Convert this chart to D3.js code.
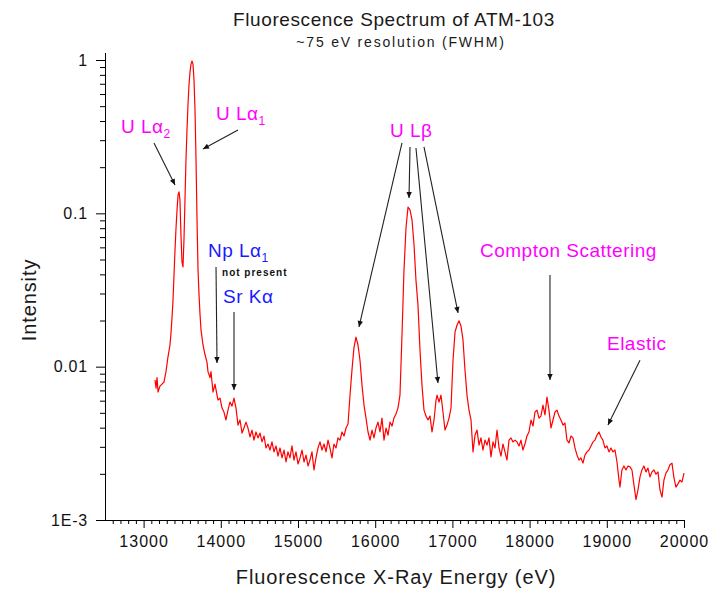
<!DOCTYPE html>
<html><head><meta charset="utf-8">
<script src="https://cdn.jsdelivr.net/npm/d3@7"></script>
<style>
body{margin:0;background:#fff}
svg{display:block}
text{font-family:"Liberation Sans",Arial,sans-serif}
</style>
</head><body>
<svg id="chart" width="710" height="590"></svg>
<script>
// ---- data ----
const energy = [13148,13161,13174,13187,13212,13238,13264,13290,13316,13342,13355,13368,13381,13394,13407,13420,13433,13446,13459,13471,13484,13497,13510,13523,13536,13549,13562,13575,13588,13601,13614,13627,13640,13653,13666,13679,13692,13705,13718,13731,13744,13769,13795,13821,13834,13860,13873,13899,13925,13951,13964,13990,
14016,14041,14067,14093,14119,14145,14171,14197,14223,14249,14275,14300,14326,14352,14378,14404,14430,14456,14482,14508,14534,14560,14585,14611,14637,14663,14689,14715,14741,14767,14793,14819,14845,14870,14896,14922,14948,14974,
15000,15026,15052,15078,15104,15130,15155,15181,15207,15233,15259,15285,15311,15337,15363,15389,15414,15440,15466,15492,15518,15544,15570,15596,15622,15648,15674,15699,15725,15751,15777,15803,15829,15855,15881,15907,15933,15959,15984,
16010,16036,16062,16088,16114,16140,16166,16192,16218,16243,16269,16295,16321,16347,16373,16399,16425,16451,16477,16503,16528,16554,16580,16606,16632,16658,16684,16710,16736,16762,16788,16801,16827,16852,16878,16904,16930,16956,16982,
17008,17034,17060,17086,17111,17137,17163,17189,17215,17241,17267,17293,17319,17345,17370,17396,17422,17448,17474,17500,17526,17552,17578,17604,17629,17655,17681,17707,17733,17759,17785,17811,17837,17863,17888,17914,17940,17966,17992,
18018,18044,18070,18096,18122,18147,18173,18199,18225,18251,18277,18303,18329,18355,18381,18406,18432,18458,18484,18510,18536,18562,18588,18614,18640,18665,18691,18717,18743,18769,18795,18821,18847,18873,18899,18924,18950,18976,
19002,19028,19054,19080,19106,19132,19158,19171,19196,19222,19248,19274,19300,19326,19352,19378,19404,19430,19455,19481,19507,19533,19559,19585,19611,19637,19663,19689,19715,19740,19766,19792,19818,19844,19870,19896,19922,19948,19974,20000];

const intensity = [0.00818,0.00725,0.00849,0.00683,0.00747,0.00770,0.00794,0.00928,0.0116,0.0139,0.0166,0.0208,0.0272,0.0396,0.0577,0.0802,0.105,0.132,0.138,0.122,0.0723,0.0482,0.0447,0.0670,0.122,0.223,0.350,0.509,0.687,0.835,0.94,0.985,0.94,0.741,0.472,0.223,0.0905,0.0427,0.0294,0.0218,0.0173,0.0139,0.0120,0.0107,0.00928,0.00849,0.00928,0.00683,0.00770,0.00653,0.00606,0.00624,
0.00537,0.00506,0.00449,0.00521,0.00588,0.00553,0.00624,0.00537,0.00416,0.00449,0.00369,0.00398,0.00435,0.00398,0.00348,0.00386,0.00332,0.00375,0.00343,0.00369,0.00323,0.00353,0.00295,0.00313,0.00286,0.00323,0.00278,0.00304,0.00261,0.00295,0.00254,0.00286,0.00239,0.00278,0.00254,0.00304,0.00246,0.00278,
0.00232,0.00254,0.00286,0.00239,0.00265,0.00225,0.00246,0.00278,0.00212,0.00254,0.00295,0.00323,0.00286,0.00313,0.00278,0.00332,0.00295,0.00254,0.00313,0.00295,0.00343,0.00332,0.00375,0.00353,0.00398,0.00423,0.00653,0.0095,0.0133,0.0156,0.0139,0.0110,0.00758,0.00562,0.00462,0.00375,0.00332,0.00386,0.00343,
0.00398,0.00435,0.00375,0.00462,0.00332,0.00398,0.00358,0.00435,0.00410,0.00462,0.00491,0.00537,0.00653,0.0161,0.0427,0.0802,0.110,0.105,0.0905,0.0621,0.0367,0.0253,0.0129,0.00758,0.00521,0.00476,0.00449,0.00476,0.00375,0.00449,0.00606,0.00653,0.00588,0.00653,0.00506,0.00386,0.00416,0.00462,0.00537,
0.0110,0.0168,0.0187,0.0199,0.0184,0.0150,0.0095,0.00653,0.00521,0.00449,0.00278,0.00358,0.00386,0.00308,0.00343,0.00286,0.00332,0.00308,0.00343,0.00258,0.00323,0.00295,0.00386,0.00295,0.00261,0.00313,0.00278,0.00246,0.00332,0.00343,0.00323,0.00332,0.00323,0.00304,0.00332,0.00286,0.00313,0.00353,0.00375,
0.00449,0.00410,0.00506,0.00521,0.00462,0.00476,0.00562,0.00484,0.00634,0.00521,0.00398,0.00449,0.00506,0.00521,0.00476,0.00449,0.00416,0.00429,0.00332,0.00318,0.00353,0.00343,0.00295,0.00265,0.00246,0.00254,0.00235,0.00265,0.00278,0.00286,0.00304,0.00323,0.00332,0.00358,0.00375,0.00348,0.00332,0.00295,
0.00304,0.00278,0.00295,0.00278,0.00286,0.00239,0.00182,0.00164,0.00212,0.00225,0.00212,0.00225,0.00222,0.00212,0.00169,0.00136,0.00157,0.00191,0.00212,0.00225,0.00206,0.00218,0.00191,0.00206,0.00212,0.00199,0.00206,0.00157,0.00141,0.00182,0.00202,0.00212,0.00229,0.00235,0.00188,0.00164,0.00172,0.00182,0.00177,0.00202];

const xMajorTicks = [13000,14000,15000,16000,17000,18000,19000,20000];
const yMajorTicks = [1,0.1,0.01,0.001];
const yTickLabels = ["1","0.1","0.01","1E-3"];

const titleText = "Fluorescence Spectrum of ATM-103";
const subtitleText = "~75 eV resolution (FWHM)";
const xTitle = "Fluorescence X-Ray Energy (eV)";
const yTitle = "Intensity";

// annotation labels
const labelText = ["U L\u03b1","U L\u03b1","Np L\u03b1","not present","Sr K\u03b1","U L\u03b2","Compton Scattering","Elastic"];
const labelSub  = ["2","1","1","","","","",""];
const labelE    = [12707,13938,13834,14016,14028,16192,17357,19002];
const labelV    = [0.334,0.406,0.0519,0.039,0.026,0.315,0.0519,0.01285];
const labelKind = ["u","u","np","small","np","u","u","u"];

// arrows: start (energy,intensity) -> tip (energy,intensity)
const arrowE0 = [13135,14223,13938,14171,16347,16451,16528,16632,18264,19430];
const arrowV0 = [0.288,0.350,0.0447,0.0227,0.288,0.271,0.267,0.271,0.0396,0.0110];
const arrowE1 = [13407,13769,13951,14171,15790,16438,16813,17073,18264,19015];
const arrowV1 = [0.153,0.263,0.01057,0.00704,0.01815,0.126,0.00782,0.0224,0.00818,0.00417];

// ---- drawing ----
const svg = d3.select("#chart");
const x = d3.scaleLinear().domain([12500,20000]).range([105,684]);
const y = d3.scaleLog().domain([0.001,1]).range([520,60]);

svg.append("rect").attr("width",710).attr("height",590).attr("fill","#fff");

// titles
svg.append("text").attr("x",394).attr("y",26).attr("text-anchor","middle")
  .attr("font-size",19).attr("letter-spacing",0.6).attr("fill","#1a1a1a").text(titleText);
svg.append("text").attr("x",401).attr("y",47).attr("text-anchor","middle")
  .attr("font-size",14).attr("letter-spacing",1.8).attr("fill","#1a1a1a").text(subtitleText);

// x axis
const xMinor = d3.range(12600, 20000, 100).filter(v => v % 1000 !== 0);
const gxMinor = svg.append("g").attr("transform","translate(0,520)")
  .call(d3.axisBottom(x).tickValues(xMinor).tickSize(4).tickFormat(""));
gxMinor.select(".domain").remove();
const gx = svg.append("g").attr("transform","translate(0,520)")
  .call(d3.axisBottom(x).tickValues(xMajorTicks).tickSize(8).tickPadding(8).tickFormat(d3.format("d")));
gx.select(".domain").remove();
gx.selectAll("text").attr("font-size",16).attr("letter-spacing",1).attr("fill","#111")
  .attr("font-family","'Liberation Sans',Arial,sans-serif");

// y axis
const yMinor = [];
[0.001,0.01,0.1].forEach(d => { for (let k=2;k<=9;k++) yMinor.push(d*k); });
const gyMinor = svg.append("g").attr("transform","translate(105,0)")
  .call(d3.axisLeft(y).tickValues(yMinor).tickSize(5).tickFormat(""));
gyMinor.select(".domain").remove();
const gy = svg.append("g").attr("transform","translate(105,0)")
  .call(d3.axisLeft(y).tickValues(yMajorTicks).tickSize(9).tickPadding(8)
    .tickFormat((d,i) => yTickLabels[i]));
gy.select(".domain").remove();
gy.selectAll("text").attr("font-size",16).attr("letter-spacing",0.8).attr("fill","#111")
  .attr("font-family","'Liberation Sans',Arial,sans-serif");
svg.selectAll("g line").attr("stroke","#000");

// axis lines
svg.append("line").attr("x1",105.5).attr("x2",105.5).attr("y1",53).attr("y2",520.5).attr("stroke","#000");
svg.append("line").attr("x1",105).attr("x2",684.5).attr("y1",520.5).attr("y2",520.5).attr("stroke","#000");

// axis titles
svg.append("text").attr("x",396).attr("y",584).attr("text-anchor","middle")
  .attr("font-size",20).attr("letter-spacing",0.9).attr("fill","#1a1a1a").text(xTitle);
svg.append("text").attr("transform","translate(36,300) rotate(-90)").attr("text-anchor","middle")
  .attr("font-size",20).attr("letter-spacing",0.9).attr("fill","#1a1a1a").text(yTitle);

// spectrum
const pts = energy.map((e,i) => [e, intensity[i]]);
svg.append("path").datum(pts)
  .attr("fill","none").attr("stroke","#ff0000").attr("stroke-width",1.2)
  .attr("stroke-linejoin","round")
  .attr("d", d3.line().x(d => x(d[0])).y(d => y(d[1])));

// arrow marker
svg.append("defs").append("marker").attr("id","ah")
  .attr("viewBox","0 0 10 10").attr("refX",10).attr("refY",5)
  .attr("markerWidth",8).attr("markerHeight",6).attr("markerUnits","userSpaceOnUse")
  .attr("orient","auto")
  .append("path").attr("d","M0,0.5 L10,5 L0,9.5 Z").attr("fill","#111");

arrowE0.forEach((e,i) => {
  svg.append("line")
    .attr("x1",x(e)).attr("y1",y(arrowV0[i]))
    .attr("x2",x(arrowE1[i])).attr("y2",y(arrowV1[i]))
    .attr("stroke","#222").attr("stroke-width",1.1)
    .attr("marker-end","url(#ah)");
});

// labels
const colors = {u:"#ff00ff", np:"#1a1aff", small:"#111"};
labelText.forEach((t,i) => {
  const kind = labelKind[i];
  const txt = svg.append("text").attr("x",x(labelE[i])).attr("y",y(labelV[i]))
    .attr("fill",colors[kind])
    .attr("font-size", kind === "small" ? 10 : 19)
    .attr("font-weight", kind === "small" ? "bold" : "normal")
    .attr("letter-spacing", kind === "small" ? 1 : 0.5);
  txt.append("tspan").text(t);
  if (labelSub[i]) {
    txt.append("tspan").attr("dy",5).attr("font-size",12).text(labelSub[i]);
  }
});
</script>
</body></html>
